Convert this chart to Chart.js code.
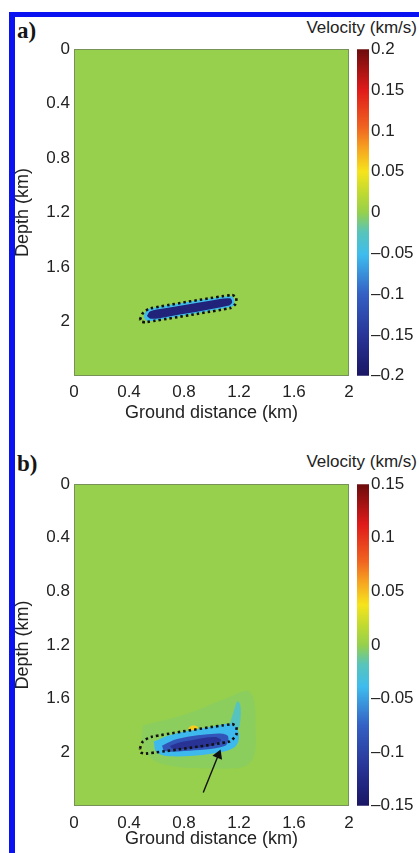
<!DOCTYPE html>
<html>
<head>
<meta charset="utf-8">
<script src="https://cdn.jsdelivr.net/npm/chart.js@4.4.0/dist/chart.umd.min.js"></script>
<style>
  html, body { margin: 0; padding: 0; background: #fff; }
  body { width: 419px; height: 853px; position: relative; overflow: hidden; font-family: "Liberation Sans", Arial, sans-serif; }
  #frame { position: absolute; left: 9px; top: 12px; width: 430px; height: 860px; border-left: 6px solid #0a12f2; border-top: 5px solid #0a12f2; }
  canvas { position: absolute; }
  .tag { position: absolute; font-family: "Liberation Serif", serif; font-weight: bold; font-size: 23px; line-height: 1; color: #151515; }
  .cbtitle { position: absolute; right: 2px; font-size: 17px; line-height: 1; color: #222; }
</style>
</head>
<body>
<div id="frame"></div>

<div class="tag" style="left:17px; top:19px;">a)</div>
<div class="cbtitle" style="top:19px;">Velocity (km/s)</div>
<canvas id="field-a" width="361" height="424" style="left:0; top:0;"></canvas>
<canvas id="cbar-a" width="62" height="351" style="left:357px; top:37px;"></canvas>

<div class="tag" style="left:17px; top:452px;">b)</div>
<div class="cbtitle" style="top:453px;">Velocity (km/s)</div>
<canvas id="field-b" width="361" height="415" style="left:0; top:435px;"></canvas>
<canvas id="cbar-b" width="62" height="346" style="left:357px; top:472px;"></canvas>

<script>
// Axes
const distRange = [0, 2];
const depthRange = [0, 2.4];
const distTicks = [0, 0.4, 0.8, 1.2, 1.6, 2];
const depthTicks = [0, 0.4, 0.8, 1.2, 1.6, 2];

// Panel a: true velocity perturbation (km/s)
const aVelRange = [-0.2, 0.2];
const aVelTicks = [-0.2, -0.15, -0.1, -0.05, 0, 0.05, 0.1, 0.15, 0.2];
const aRimVel = -0.05;
const aRim = [[0.505,1.965],[0.53,1.915],[0.6,1.895],[1.0,1.83],[1.145,1.815],[1.165,1.84],[1.16,1.885],[1.1,1.9],[0.6,1.99],[0.53,1.995],[0.505,1.965]];
const aBodyVel = -0.18;
const aBody = [[0.53,1.96],[0.555,1.925],[0.65,1.905],[1.0,1.845],[1.135,1.83],[1.15,1.86],[1.12,1.885],[0.65,1.97],[0.56,1.98],[0.53,1.96]];
const aOutline = [[0.48,1.985],[0.5,1.94],[0.55,1.905],[1.15,1.805],[1.18,1.825],[1.175,1.87],[1.14,1.9],[0.52,2.005],[0.485,2.0],[0.48,1.985]];

// Panel b: recovered velocity perturbation (km/s)
const bVelRange = [-0.15, 0.15];
const bVelTicks = [-0.15, -0.1, -0.05, 0, 0.05, 0.1, 0.15];
const bHazeVel = -0.003;
const bHaze = [[0.5,1.8],[0.8,1.72],[1.1,1.6],[1.28,1.55],[1.32,1.8],[1.28,2.08],[1.0,2.12],[0.62,2.08],[0.5,1.95],[0.5,1.8]];
const bPlumeVel = -0.02;
const bPlume = [[1.13,1.8],[1.16,1.7],[1.19,1.62],[1.21,1.65],[1.21,1.76],[1.19,1.83],[1.13,1.8]];
const bHaloVel = -0.04;
const bHalo = [[0.58,1.92],[0.7,1.87],[1.0,1.81],[1.15,1.79],[1.2,1.86],[1.17,1.96],[1.0,2.01],[0.7,2.03],[0.6,2.0],[0.58,1.92]];
const bBodyVel = -0.085;
const bBody = [[0.64,1.95],[0.75,1.9],[1.05,1.86],[1.12,1.88],[1.1,1.95],[0.8,1.99],[0.66,1.99],[0.64,1.95]];
const bCoreVel = -0.115;
const bCore = [[0.7,1.95],[0.8,1.92],[1.02,1.885],[1.07,1.91],[1.0,1.95],[0.8,1.975],[0.71,1.97],[0.7,1.95]];
const bYellowVel = 0.045;
const bYellow = [[0.83,1.82],[0.86,1.8],[0.9,1.81],[0.89,1.83],[0.85,1.835],[0.83,1.82]];
const bOutline = [[0.48,1.97],[0.5,1.92],[0.56,1.885],[1.15,1.79],[1.18,1.81],[1.18,1.87],[1.13,1.92],[0.52,2.01],[0.485,2.0],[0.48,1.97]];
const bArrow = [[0.94,2.3],[1.05,2.02]];

// Colormap (jet-like, green at zero)
const cmapStops = [
  [0, [26, 22, 100]], [0.12, [40, 52, 150]], [0.25, [52, 96, 196]], [0.37, [62, 188, 238]],
  [0.44, [88, 196, 186]], [0.5, [150, 208, 76]], [0.56, [192, 218, 48]], [0.625, [246, 228, 28]],
  [0.7, [246, 160, 32]], [0.76, [240, 100, 32]], [0.875, [224, 26, 26]], [1, [108, 12, 12]]
];

const textColor = '#222';
const tickFont = { family: '"Liberation Sans", Arial, sans-serif', size: 17 };
const titleFont = { family: '"Liberation Sans", Arial, sans-serif', size: 18 };

// Functions
function cmap(t) {
  t = Math.max(0, Math.min(1, t));
  for(let i = 1; i < cmapStops.length; i++) {
    const [t1, c1] = cmapStops[i];
    const [t0, c0] = cmapStops[i - 1];
    if(t <= t1) {
      const f = (t - t0) / (t1 - t0);
      const c = c0.map((v, k) => Math.round(v + (c1[k] - v) * f));
      return 'rgb(' + c.join(',') + ')';
    }
  }
  return 'rgb(' + cmapStops[cmapStops.length - 1][1].join(',') + ')';
}

function velColor(v, range) {
  return cmap((v - range[0]) / (range[1] - range[0]));
}

function fmtVel(v) {
  return v < 0 ? '\u2013' + String(-v) : String(v);
}

function toPoints(arr) {
  return arr.map(p => ({ x: p[0], y: p[1] }));
}

function patch(points, color, order) {
  return {
    data: toPoints(points), fill: 'shape', backgroundColor: color,
    borderColor: color, borderWidth: 0, pointRadius: 0, tension: 0.35, order: order
  };
}

function dotted(points) {
  return {
    data: toPoints(points), fill: false, borderColor: '#111', borderWidth: 2.6,
    borderDash: [2.5, 3], pointRadius: 0, tension: 0.2, order: 0
  };
}

// Background of the field = zero perturbation colour
const fieldBg = {
  id: 'fieldBg',
  beforeDatasetsDraw(chart, args, opts) {
    const a = chart.chartArea;
    const ctx = chart.ctx;
    ctx.save();
    ctx.fillStyle = opts.color;
    ctx.fillRect(a.left, a.top, a.right - a.left, a.bottom - a.top);
    ctx.restore();
  },
  afterDraw(chart) {
    const a = chart.chartArea;
    const ctx = chart.ctx;
    ctx.save();
    ctx.strokeStyle = 'rgba(110,130,90,0.8)';
    ctx.lineWidth = 1;
    ctx.strokeRect(a.left + 0.5, a.top + 0.5, a.right - a.left - 1, a.bottom - a.top - 1);
    ctx.restore();
  }
};

function fieldChart(id, datasets, bgColor, xAxisH, xTickPad) {
  return new Chart(document.getElementById(id), {
    type: 'line',
    data: { datasets: datasets },
    plugins: [fieldBg],
    options: {
      responsive: false, animation: false, events: [],
      layout: { padding: { left: 12, top: 49, right: 12, bottom: 0 } },
      plugins: { legend: { display: false }, tooltip: { enabled: false }, fieldBg: { color: bgColor } },
      scales: {
        x: {
          type: 'linear', min: distRange[0], max: distRange[1],
          grid: { display: false, drawTicks: false }, border: { display: false },
          afterBuildTicks: s => { s.ticks = distTicks.map(v => ({ value: v })); },
          afterFit: s => { s.height = xAxisH; },
          ticks: { padding: xTickPad, font: tickFont, color: textColor, maxRotation: 0, autoSkip: false, callback: v => String(v) },
          title: { display: true, text: 'Ground distance (km)', font: titleFont, color: textColor, padding: 0 }
        },
        y: {
          type: 'linear', reverse: true, min: depthRange[0], max: depthRange[1],
          grid: { display: false, drawTicks: false }, border: { display: false },
          afterBuildTicks: s => { s.ticks = depthTicks.map(v => ({ value: v })); },
          afterFit: s => { s.width = 62; },
          ticks: { padding: 4, font: tickFont, color: textColor, autoSkip: false, callback: v => String(v) },
          title: { display: true, text: 'Depth (km)', font: titleFont, color: textColor, padding: 0 }
        }
      }
    }
  });
}

function colorbarChart(id, range, ticks) {
  return new Chart(document.getElementById(id), {
    type: 'bar',
    data: {
      labels: [''],
      datasets: [{
        data: [[range[0], range[1]]],
        barPercentage: 1, categoryPercentage: 1, borderWidth: 0, borderSkipped: false,
        backgroundColor: c => {
          const a = c.chart.chartArea;
          if(!a) return cmap(0.5);
          const g = c.chart.ctx.createLinearGradient(0, a.bottom, 0, a.top);
          cmapStops.forEach(s => g.addColorStop(s[0], 'rgb(' + s[1].join(',') + ')'));
          return g;
        }
      }]
    },
    options: {
      responsive: false, animation: false, events: [],
      layout: { padding: { left: 0, top: 12, right: 0, bottom: 12 } },
      plugins: { legend: { display: false }, tooltip: { enabled: false } },
      scales: {
        x: { display: false },
        y: {
          position: 'right', min: range[0], max: range[1],
          grid: { display: false, drawTicks: false }, border: { display: false },
          afterBuildTicks: s => { s.ticks = ticks.map(v => ({ value: v })); },
          afterFit: s => { s.width = 50; },
          ticks: { padding: 2, font: tickFont, color: textColor, autoSkip: false, callback: v => fmtVel(v) }
        }
      }
    }
  });
}

// Panel a
fieldChart('field-a', [
  dotted(aOutline),
  patch(aBody, velColor(aBodyVel, aVelRange), 2),
  patch(aRim, velColor(aRimVel, aVelRange), 3)
], velColor(0, aVelRange), 48, 6);
colorbarChart('cbar-a', aVelRange, aVelTicks);

// Panel b
fieldChart('field-b', [
  dotted(bOutline),
  {
    data: toPoints(bArrow), fill: false, borderColor: '#111', backgroundColor: '#111', borderWidth: 1.4,
    pointStyle: 'triangle', pointRadius: [0, 6], pointRotation: [0, 22], pointBorderWidth: 0, order: 0
  },
  patch(bCore, velColor(bCoreVel, bVelRange), 1),
  patch(bBody, velColor(bBodyVel, bVelRange), 2),
  patch(bYellow, velColor(bYellowVel, bVelRange), 2),
  patch(bHalo, velColor(bHaloVel, bVelRange), 3),
  patch(bPlume, velColor(bPlumeVel, bVelRange), 4),
  patch(bHaze, velColor(bHazeVel, bVelRange), 5)
], velColor(0, bVelRange), 44, 7);
colorbarChart('cbar-b', bVelRange, bVelTicks);
</script>
</body>
</html>
